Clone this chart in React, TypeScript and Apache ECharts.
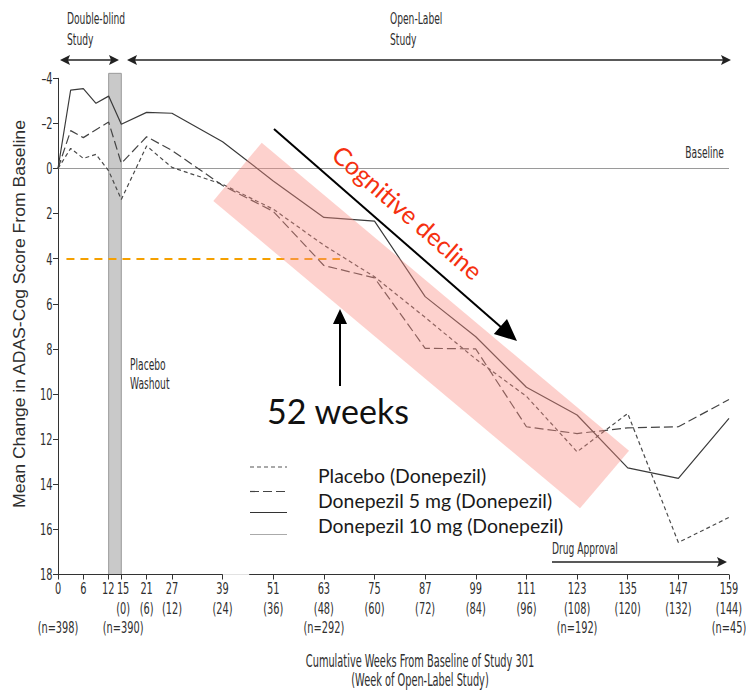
import React, { useEffect, useRef } from "react";
import * as echarts from "echarts";

// Visit weeks (cumulative from baseline of Study 301)
const weeks = [0, 3, 6, 9, 12, 15, 21, 27, 39, 51, 63, 75, 87, 99, 111, 123, 135, 147, 159];
// Mean change in ADAS-Cog score from baseline
const placebo = [0, -0.89, -0.45, -0.63, 0.1, 1.37, -1.0, -0.05, 0.7, 1.8, 3.4, 4.8, 6.6, 8.45, 10.1, 12.56, 10.86, 16.58, 15.47];
const dose5 = [0, -1.68, -1.37, -1.72, -2.06, -0.23, -1.41, -0.8, 0.75, 1.9, 4.3, 4.85, 7.97, 8.0, 11.45, 11.75, 11.5, 11.45, 10.24];
const dose10 = [0, -3.48, -3.54, -2.89, -3.21, -1.96, -2.49, -2.45, -1.19, 0.55, 2.17, 2.33, 5.68, 7.46, 9.7, 10.93, 13.27, 13.74, 11.08];

// X-axis tick labels
const tickWeeks = [0, 6, 12, 15, 21, 27, 39, 51, 63, 75, 87, 99, 111, 123, 135, 147, 159];
const openLabelWeek = ["", "", "", "(0)", "(6)", "(12)", "(24)", "(36)", "(48)", "(60)", "(72)", "(84)", "(96)", "(108)", "(120)", "(132)", "(144)"];
const sampleSizes = ["(n=398)", "", "", "(n=390)", "", "", "", "", "(n=292)", "", "", "", "", "(n=192)", "", "", "(n=45)"];
// Y-axis tick values
const yTicks = [-4, -2, 0, 2, 4, 6, 8, 10, 12, 14, 16, 18];

const seriesNames = ["Placebo (Donepezil)", "Donepezil 5 mg (Donepezil)", "Donepezil 10 mg (Donepezil)"];

const NARROW = "'DejaVu Sans Condensed', 'DejaVu Sans', sans-serif";
const NARROW_SIZE = 16;
const NARROW_SCALE = 0.635;
const INK = "#2e2e2e";
const SANS = "Lato, 'Open Sans', sans-serif";

function arrowHead(tx: number, ty: number, angleDeg: number, len: number, half: number, notch: number) {
  const a = (angleDeg * Math.PI) / 180;
  const ux = Math.cos(a);
  const uy = Math.sin(a);
  const px = -uy;
  const py = ux;
  const bx = tx - ux * len;
  const by = ty - uy * len;
  return [
    [tx, ty],
    [bx + px * half, by + py * half],
    [tx - ux * (len - notch), ty - uy * (len - notch)],
    [bx - px * half, by - py * half],
  ];
}

function narrowText(x: number, y: number, text: string, align = "left", size = NARROW_SIZE, scale = NARROW_SCALE) {
  return {
    type: "text",
    x,
    y,
    scaleX: scale,
    z: 20,
    silent: true,
    style: { text, fill: INK, fontSize: size, fontFamily: NARROW, align, verticalAlign: "middle" },
  };
}

export default function App() {
  const ref = useRef<HTMLDivElement>(null);

  useEffect(() => {
    if (!ref.current) return;
    const chart = echarts.init(ref.current, null, { renderer: "svg" });

    const pts = (vals: number[]) => weeks.map((w, i) => [w, vals[i]]);

    const option: any = {
      animation: false,
      backgroundColor: "#fff",
      grid: { left: 58, right: 17, top: 78.3, bottom: 115.5, containLabel: false, outerBoundsMode: "none" },
      xAxis: {
        type: "value",
        min: 0,
        max: 159,
        axisLine: { show: true, onZero: false, lineStyle: { color: "#e2e2e2", width: 1 } },
        axisTick: { show: true, customValues: tickWeeks, length: 5, lineStyle: { color: "#333" } },
        axisLabel: { show: false, customValues: tickWeeks },
        splitLine: { show: false },
      },
      yAxis: {
        type: "value",
        inverse: true,
        min: -4,
        max: 18,
        interval: 2,
        axisLine: { show: true, lineStyle: { color: "#333" } },
        axisTick: { show: true, length: 5, lineStyle: { color: "#333" } },
        axisLabel: { show: false },
        splitLine: { show: false },
      },
      series: [
        {
          type: "line",
          name: "annotations",
          data: [],
          silent: true,
          clip: false,
          symbol: "none",
          markLine: {
            silent: true,
            symbol: ["none", "none"],
            label: { show: false },
            data: [
              { yAxis: 0, lineStyle: { color: "#9a9a9a", width: 1, type: "solid" } },
              [
                { coord: [2, 4], lineStyle: { color: "#f5a000", width: 2, type: [8, 6] } },
                { coord: [66.8, 4] },
              ],
              [
                { coord: [0, 18], lineStyle: { color: "#333", width: 1, type: "solid" } },
                { coord: [39, 18] },
              ],
              [
                { coord: [45.3, 18], lineStyle: { color: "#333", width: 1, type: "solid" } },
                { coord: [159, 18] },
              ],
            ],
          },
        },
        {
          type: "line",
          name: seriesNames[0],
          data: pts(placebo),
          symbol: "none",
          z: 5,
          lineStyle: { color: "#4a4a4a", width: 1.2, type: [4, 3] },
        },
        {
          type: "line",
          name: seriesNames[1],
          data: pts(dose5),
          symbol: "none",
          z: 5,
          lineStyle: { color: "#444", width: 1.2, type: [9, 4] },
        },
        {
          type: "line",
          name: seriesNames[2],
          data: pts(dose10),
          symbol: "none",
          z: 5,
          lineStyle: { color: "#3a3a3a", width: 1.2, type: "solid" },
        },
      ],
    };

    chart.setOption(option);

    const toPx = (w: number, v: number) => chart.convertToPixel({ gridIndex: 0 }, [w, v]) as number[];

    // placebo washout band (weeks 12-15)
    const bandA = toPx(12, -4.22);
    const bandB = toPx(15, 18);

    // axis tick labels placed through the axis scales
    const [, axisY] = toPx(0, 18);
    const [axisX] = toPx(0, 0);
    const tickX = tickWeeks.map((w) => toPx(w, 18)[0]);
    const xLabels = tickWeeks.map((w, i) => {
      // spread apart labels whose ticks sit very close together
      let x = tickX[i];
      if (i > 0 && tickX[i] - tickX[i - 1] < 16) x += 1.8;
      if (i < tickX.length - 1 && tickX[i + 1] - tickX[i] < 16) x -= 0.5;
      return {
        type: "text",
        x,
        y: axisY + 4,
        scaleX: 0.68,
        z: 20,
        silent: true,
        style: {
          text: [String(w), openLabelWeek[i], sampleSizes[i]].join("\n").replace(/\n+$/, ""),
          fill: INK,
          fontSize: 16,
          fontFamily: NARROW,
          lineHeight: 19.5,
          align: "center",
          verticalAlign: "top",
        },
      };
    });
    const yLabels = yTicks.map((v) => {
      const [, y] = toPx(0, v);
      return {
        type: "text",
        x: axisX - 5.5,
        y,
        scaleX: 0.68,
        z: 20,
        silent: true,
        style: {
          text: v < 0 ? "\u2013" + Math.abs(v) : String(v),
          fill: INK,
          fontSize: 16,
          fontFamily: NARROW,
          align: "right",
          verticalAlign: "middle",
        },
      };
    });

    const diagTip: [number, number] = [517, 341];
    const diagStart: [number, number] = [274, 129];
    const diagAngle = (Math.atan2(diagTip[1] - diagStart[1], diagTip[0] - diagStart[0]) * 180) / Math.PI;
    const diagLen = 22;
    const diagBase = [
      diagTip[0] - Math.cos((diagAngle * Math.PI) / 180) * (diagLen - 4),
      diagTip[1] - Math.sin((diagAngle * Math.PI) / 180) * (diagLen - 4),
    ];

    const graphic: any[] = [
      {
        type: "rect",
        z: 1,
        silent: true,
        shape: { x: bandA[0], y: bandA[1], width: bandB[0] - bandA[0], height: bandB[1] - bandA[1] },
        style: { fill: "#c9c9c9", stroke: "#9a9a9a", lineWidth: 1 },
      },
      ...xLabels,
      ...yLabels,
      // study-phase arrows
      { type: "line", z: 20, shape: { x1: 64, y1: 60, x2: 115, y2: 60 }, style: { stroke: "#222", lineWidth: 1.5 } },
      { type: "polygon", z: 20, shape: { points: arrowHead(60, 60, 180, 10, 5, 2) }, style: { fill: "#222" } },
      { type: "polygon", z: 20, shape: { points: arrowHead(119, 60, 0, 10, 5, 2) }, style: { fill: "#222" } },
      { type: "line", z: 20, shape: { x1: 131, y1: 60, x2: 727, y2: 60 }, style: { stroke: "#222", lineWidth: 1.5 } },
      { type: "polygon", z: 20, shape: { points: arrowHead(127, 60, 180, 10, 5, 2) }, style: { fill: "#222" } },
      { type: "polygon", z: 20, shape: { points: arrowHead(731, 60, 0, 10, 5, 2) }, style: { fill: "#222" } },
      narrowText(67, 19, "Double-blind"),
      narrowText(67, 40, "Study"),
      narrowText(390, 19, "Open-Label"),
      narrowText(390, 40, "Study"),
      narrowText(130, 365, "Placebo"),
      narrowText(130, 384, "Washout"),
      narrowText(724, 153, "Baseline", "right"),
      narrowText(552, 549, "Drug Approval"),
      { type: "line", z: 20, shape: { x1: 552, y1: 562, x2: 722, y2: 562 }, style: { stroke: "#222", lineWidth: 1.5 } },
      { type: "polygon", z: 20, shape: { points: arrowHead(727, 562, 0, 10, 5, 2) }, style: { fill: "#222" } },
      // axis titles
      narrowText(420, 661, "Cumulative Weeks From Baseline of Study 301", "center", 17, 0.64),
      narrowText(420, 680, "(Week of Open-Label Study)", "center", 17, 0.64),
      {
        type: "text",
        x: 20,
        y: 314,
        rotation: Math.PI / 2,
        scaleX: 1.1,
        z: 20,
        silent: true,
        style: {
          text: "Mean Change in ADAS-Cog Score From Baseline",
          fill: INK,
          fontSize: 16,
          fontFamily: "'Liberation Sans', Arial, sans-serif",
          align: "center",
          verticalAlign: "middle",
        },
      },
      // highlighted decline band
      {
        type: "polygon",
        z: 30,
        silent: true,
        shape: { points: [[261.7, 142.7], [629, 450.7], [580, 508.3], [213.3, 201]] },
        style: { fill: "rgba(250,140,130,0.4)" },
      },
      // decline arrow
      {
        type: "line",
        z: 31,
        shape: { x1: diagStart[0], y1: diagStart[1], x2: diagBase[0], y2: diagBase[1] },
        style: { stroke: "#000", lineWidth: 2 },
      },
      { type: "polygon", z: 31, shape: { points: arrowHead(diagTip[0], diagTip[1], diagAngle, diagLen, 10, 0) }, style: { fill: "#000" } },
      {
        type: "text",
        x: 408,
        y: 212,
        rotation: (-diagAngle * Math.PI) / 180,
        z: 31,
        silent: true,
        style: {
          text: "Cognitive decline",
          fill: "#f5300f",
          fontSize: 25,
          fontFamily: SANS,
          align: "center",
          verticalAlign: "middle",
        },
      },
      // 52-week pointer
      { type: "line", z: 31, shape: { x1: 340, y1: 386, x2: 340, y2: 321 }, style: { stroke: "#000", lineWidth: 2 } },
      { type: "polygon", z: 31, shape: { points: arrowHead(340, 309, -90, 15, 7, 0) }, style: { fill: "#000" } },
      {
        type: "text",
        x: 338,
        y: 410,
        z: 31,
        silent: true,
        style: {
          text: "52 weeks",
          fill: "#111",
          fontSize: 34,
          fontFamily: SANS,
          align: "center",
          verticalAlign: "middle",
        },
      },
      // legend
      { type: "line", z: 31, shape: { x1: 250, y1: 467, x2: 287, y2: 467 }, style: { stroke: "#555", lineWidth: 1.2, lineDash: [4, 3] } },
      { type: "line", z: 31, shape: { x1: 250, y1: 491.5, x2: 287, y2: 491.5 }, style: { stroke: "#444", lineWidth: 1.2, lineDash: [9, 4] } },
      { type: "line", z: 31, shape: { x1: 250, y1: 512.5, x2: 287, y2: 512.5 }, style: { stroke: "#333", lineWidth: 1.2 } },
      { type: "line", z: 31, shape: { x1: 250, y1: 534.5, x2: 287, y2: 534.5 }, style: { stroke: "#aaa", lineWidth: 1 } },
      ...seriesNames.map((name, i) => ({
        type: "text",
        x: 318,
        y: 475 + i * 25,
        z: 31,
        silent: true,
        style: {
          text: name,
          fill: "#1a1a1a",
          fontSize: 19.4,
          fontFamily: SANS,
          align: "left",
          verticalAlign: "middle",
        },
      })),
    ];

    chart.setOption({ graphic: { elements: graphic } });
    return () => chart.dispose();
  }, []);

  return (
    <div
      ref={ref}
      style={{ position: "absolute", left: 0, top: 0, width: 746, height: 690, background: "#fff" }}
    />
  );
}
